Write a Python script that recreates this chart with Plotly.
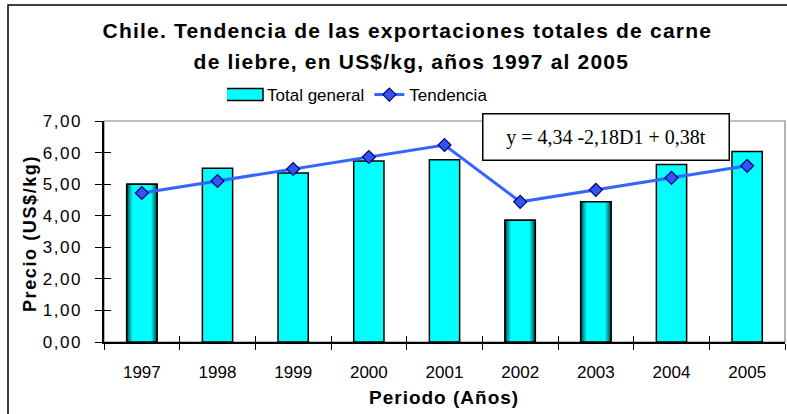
import plotly.graph_objects as go

# ---------------- data ----------------
years = ["1997", "1998", "1999", "2000", "2001", "2002", "2003", "2004", "2005"]
total_general = [5.00, 5.50, 5.35, 5.73, 5.77, 3.86, 4.44, 5.62, 6.03]
tendencia = [4.72, 5.10, 5.48, 5.86, 6.24, 4.44, 4.82, 5.20, 5.58]
y_ticks = [0, 1, 2, 3, 4, 5, 6, 7]

title_line1 = "Chile. Tendencia de las exportaciones totales de carne"
title_line2 = "de liebre, en US$/kg, años 1997 al 2005"
equation = "y = 4,34 -2,18D1 + 0,38t"
y_title = "Precio (US$/kg)"
x_title = "Periodo (Años)"

# ---------------- style ----------------
shaded_years = ["1997", "2002", "2003"]   # bars drawn with cylinder shading
BAR_W = 0.4
grad_widths = [0.40, 0.37, 0.34, 0.31, 0.28, 0.25]
grad_colors = ["#004f4f", "#007a7a", "#00a0a0", "#00c2c2", "#00e2e2", "#00ffff"]
SANS = "Liberation Sans, Arial, sans-serif"
SERIF = "Liberation Serif, Times New Roman, serif"

# plot area in pixels (for paper conversion)
L, R, T, B = 104, 785, 121, 342
W_, H_ = R - L, B - T
def px(x):
    return (x - L) / W_
def py(y):
    return (B - y) / H_

fig = go.Figure()

fig.add_trace(go.Bar(
    x=years, y=total_general, name="Total general", width=BAR_W,
    marker=dict(color="#00ffff", line=dict(color="black", width=1.5)),
))

sh_x = list(shaded_years)
sh_v = [total_general[years.index(y)] for y in shaded_years]
for w, c in zip(grad_widths, grad_colors):
    fig.add_trace(go.Bar(
        x=sh_x, y=sh_v, width=w, showlegend=False, hoverinfo="skip",
        marker=dict(color=c, line=dict(width=0)),
    ))
fig.add_trace(go.Bar(
    x=sh_x, y=sh_v, width=BAR_W, showlegend=False, hoverinfo="skip",
    marker=dict(color="rgba(0,0,0,0)", line=dict(color="black", width=1.5)),
))

fig.add_trace(go.Scatter(
    x=years, y=tendencia, name="Tendencia", mode="lines+markers",
    line=dict(color="#3366ff", width=3),
    marker=dict(symbol="diamond", size=10, color="#3355ee",
                line=dict(color="#000080", width=1.2)),
))

# invisible trace for the overlaid axes (crossing ticks)
fig.add_trace(go.Scatter(
    x=years, y=tendencia, xaxis="x2", yaxis="y2", mode="lines",
    line=dict(width=0), showlegend=False, hoverinfo="skip", opacity=0,
))

fig.update_layout(
    width=787, height=414,
    margin=dict(l=L, r=787 - R, t=T, b=414 - B),
    paper_bgcolor="white", plot_bgcolor="white",
    barmode="overlay", separators=",.",
    font=dict(family=SANS, color="black", size=17),
    showlegend=True,
    legend=dict(orientation="h", x=px(360), y=py(95), xanchor="center",
                yanchor="middle", font=dict(size=17, family=SANS),
                bgcolor="rgba(0,0,0,0)", itemwidth=30, tracegroupgap=0),
    xaxis=dict(type="category", showgrid=False, showline=True,
               linecolor="black", linewidth=1.5, ticks="outside",
               tickson="boundaries", ticklen=6, tickcolor="black",
               tickfont=dict(size=17, family=SANS), ticklabelstandoff=14,
               range=[-0.5, 8.5], automargin=False),
    yaxis=dict(range=[0, 7], tickvals=y_ticks, tickformat=".2f",
               showgrid=False, showline=True, linecolor="black", linewidth=1.5,
               ticks="outside", ticklen=7, tickcolor="black", zeroline=False,
               tickfont=dict(size=17, family=SANS), ticklabelstandoff=10,
               automargin=False),
    xaxis2=dict(type="category", overlaying="x", matches="x", side="bottom",
                anchor="y2", showgrid=False, showline=False, ticks="inside",
                tickson="boundaries", ticklen=6, tickcolor="black",
                showticklabels=False),
    yaxis2=dict(overlaying="y", matches="y", side="left", anchor="x2",
                tickvals=y_ticks, showgrid=False, showline=False,
                ticks="inside", ticklen=7, tickcolor="black",
                showticklabels=False, zeroline=False),
)

# plot area border (gray) and outer frame
fig.add_shape(type="rect", xref="paper", yref="paper", x0=0, x1=1, y0=0, y1=1,
              line=dict(color="#808080", width=1.2), layer="below")
fig.add_shape(type="rect", xref="paper", yref="paper",
              x0=px(8), x1=px(800), y0=py(430), y1=py(5),
              line=dict(color="black", width=1.5), layer="below")

# titles
fig.add_annotation(text="<b>" + title_line1 + "</b>", xref="paper", yref="paper",
                   x=px(407), y=py(31), xanchor="center", yanchor="middle",
                   showarrow=False, font=dict(size=21, family=SANS))
fig.add_annotation(text="<b>" + title_line2 + "</b>", xref="paper", yref="paper",
                   x=px(411), y=py(61.5), xanchor="center", yanchor="middle",
                   showarrow=False, font=dict(size=21, family=SANS))
fig.add_annotation(text="<b>" + y_title + "</b>", xref="paper", yref="paper",
                   x=px(30), y=py(234), xanchor="center", yanchor="middle",
                   textangle=-90, showarrow=False, font=dict(size=18, family=SANS))
fig.add_annotation(text="<b>" + x_title + "</b>", xref="paper", yref="paper",
                   x=px(444), y=py(397), xanchor="center", yanchor="middle",
                   showarrow=False, font=dict(size=19, family=SANS))
# equation box
fig.add_annotation(text=equation, xref="paper", yref="paper",
                   x=px(606), y=py(136.5), xanchor="center", yanchor="middle",
                   showarrow=False, width=243, height=43, align="center",
                   bgcolor="white", bordercolor="black", borderwidth=1.5, borderpad=1,
                   font=dict(size=20, family=SERIF))

post = """
document.body.style.margin='0';
var gd=document.getElementById('{plot_id}');
gd.querySelectorAll('.annotation-text').forEach(function(t){
  var s=t.textContent;
  if(s.indexOf('Chile')===0||s.indexOf('de liebre')===0){t.style.letterSpacing='1.2px';}
  if(s.indexOf('Precio')===0){t.style.letterSpacing='1.6px';}
  if(s.indexOf('Periodo')===0){t.style.letterSpacing='1px';}
});
gd.querySelectorAll('.ytick text').forEach(function(t){t.style.letterSpacing='1.5px';});
var items=gd.querySelectorAll('.legend .traces');
if(items.length>0){
  var p=items[0].querySelector('.legendpoints path');
  if(p){p.setAttribute('d','M-24,6H16V-6H-24Z');}
}
"""

fig.write_html("out.html", post_script=post, config={"displayModeBar": False})
